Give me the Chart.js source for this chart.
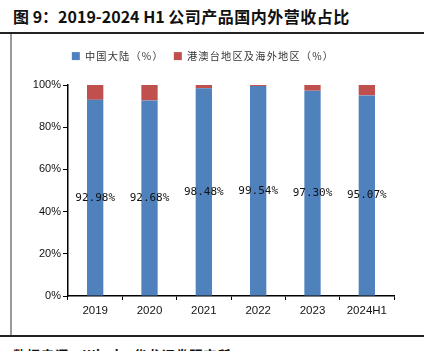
<!DOCTYPE html>
<html>
<head>
<meta charset="utf-8">
<script src="https://cdn.jsdelivr.net/npm/chart.js@4"></script>
<style>
  html, body { margin: 0; padding: 0; background: #fff; }
  body { width: 424px; height: 351px; position: relative; overflow: hidden; }
  #title { position: absolute; left: 13px; top: 4px; font: bold 16px "Noto Sans CJK SC", sans-serif; color: #111; white-space: nowrap; }
  #title .cjk { letter-spacing: 0.5px; }
  #topline { position: absolute; left: 0; top: 32px; width: 424px; height: 2px; background: #222; }
  #leftline { position: absolute; left: 10px; top: 34px; width: 2px; height: 302px; background: #999; }
  #bottomline { position: absolute; left: 0; top: 335px; width: 424px; height: 2px; background: #222; }
  #source { position: absolute; left: 13px; top: 345px; font: bold 13px "Noto Sans CJK SC", sans-serif; color: #111; white-space: nowrap; letter-spacing: 1px; }
  #chart { position: absolute; left: 12px; top: 34px; }
</style>
</head>
<body>
<div id="title">图 9：2019-2024 H1 <span class="cjk">公司产品国内外营收占比</span></div>
<div id="topline"></div>
<div id="leftline"></div>
<div id="bottomline"></div>
<div id="source">数据来源：Wind，华龙证券研究所</div>
<canvas id="chart" width="412" height="301"></canvas>
<script>
const years = ["2019", "2020", "2021", "2022", "2023", "2024H1"];
const mainland = [92.98, 92.68, 98.48, 99.54, 97.30, 95.07];
const overseas = [7.02, 7.32, 1.52, 0.46, 2.70, 4.93];
const yTicks = [0, 20, 40, 60, 80, 100];

// centred value labels on the blue bars
const barLabels = {
    id: "barLabels",
    afterDatasetsDraw(chart) {
        const ctx = chart.ctx;
        const meta = chart.getDatasetMeta(0);
        ctx.save();
        ctx.font = "11px 'DejaVu Sans Mono', monospace";
        ctx.fillStyle = "#111";
        ctx.textAlign = "center";
        ctx.textBaseline = "middle";
        meta.data.forEach((bar, i) => {
            const mid = (bar.y + bar.base) / 2;
            ctx.fillText(mainland[i].toFixed(2) + "%", bar.x, mid);
        });
        ctx.restore();
    }
};

// legend: fixed height and a bit of letter spacing like the original
const legendTweak = {
    id: "legendTweak",
    afterInit(chart) {
        const legend = chart.legend;
        const fit = legend.fit;
        const draw = legend.draw;
        legend.fit = function () {
            this.ctx.letterSpacing = "1.2px";
            fit.call(this);
            this.ctx.letterSpacing = "0px";
            this.height = 44;
        };
        legend.draw = function () {
            this.ctx.letterSpacing = "1.2px";
            draw.call(this);
            this.ctx.letterSpacing = "0px";
        };
    }
};

new Chart(document.getElementById("chart"), {
    type: "bar",
    data: {
        labels: years,
        datasets: [
            {
                label: "中国大陆（%）",
                data: mainland,
                backgroundColor: "#4F81BD",
                barPercentage: 0.3,
                categoryPercentage: 1
            },
            {
                label: "港澳台地区及海外地区（%）",
                data: overseas,
                backgroundColor: "#C0504D",
                barPercentage: 0.3,
                categoryPercentage: 1
            }
        ]
    },
    options: {
        responsive: false,
        animation: false,
        layout: { padding: { top: 7, right: 30, left: 0, bottom: 0 } },
        plugins: {
            legend: {
                position: "top",
                labels: {
                    boxWidth: 8,
                    boxHeight: 8,
                    padding: 10,
                    color: "#333",
                    font: { family: "'Noto Sans CJK SC'", size: 10.2 }
                }
            },
            tooltip: { enabled: false }
        },
        scales: {
            x: {
                stacked: true,
                grid: { display: true, drawOnChartArea: false, offset: true, tickLength: 4, color: "#000" },
                border: { color: "#000", width: 1.5 },
                ticks: { color: "#111", padding: 4, font: { family: "'Liberation Sans'", size: 11.5 } },
                afterFit(scale) { scale.height = 39; }
            },
            y: {
                stacked: true,
                min: 0,
                max: 100,
                afterBuildTicks(scale) { scale.ticks = yTicks.map(v => ({ value: v })); },
                grid: { display: true, drawOnChartArea: false, tickLength: 5, color: "#000" },
                border: { color: "#000", width: 1.5 },
                ticks: {
                    color: "#111",
                    padding: 2,
                    font: { family: "'Liberation Sans'", size: 11 },
                    callback: v => v + "%"
                },
                afterFit(scale) { scale.width = 56; }
            }
        }
    },
    plugins: [barLabels, legendTweak]
});
</script>
</body>
</html>
